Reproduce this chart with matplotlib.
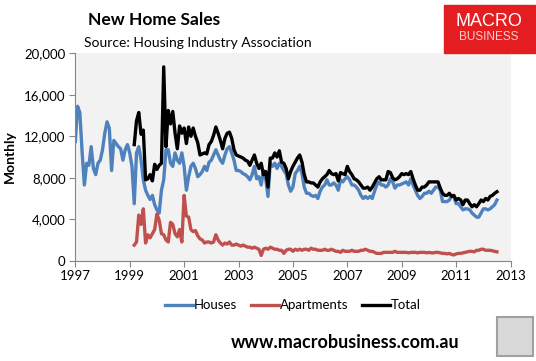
import numpy as np
import matplotlib
matplotlib.use('Agg')
import matplotlib.pyplot as plt
from matplotlib.patches import Rectangle

plt.rcParams['font.family'] = ['Lato', 'DejaVu Sans']

# Données mensuelles
houses = [
    11500, 14900, 14300, 10500, 7300, 9400, 9200, 11000, 8900, 8300, 9400, 9700,   # 1997
    10700, 12300, 13400, 12800, 8700, 11600, 11300, 11000, 10800, 9700, 10700, 11200,  # 1998
    10400, 9100, 5500, 10400, 11000, 9700, 7800, 6800, 6300, 5900, 6300, 5400,    # 1999
    4900, 4600, 6800, 7800, 10700, 10700, 9400, 9100, 10400, 9700, 9400, 10400,   # 2000
    9100, 6800, 8100, 9100, 9400, 8900, 8100, 8300, 8600, 9100, 8700, 9500,       # 2001
    9700, 10200, 10700, 10200, 9700, 9400, 10200, 10800, 11000, 10400, 9700, 8700,  # 2002
    8700, 8600, 8400, 8300, 8100, 7800, 8300, 9100, 7900, 8100, 7300, 8700,       # 2003
    7900, 6200, 9400, 9100, 9400, 8900, 9400, 9100, 8700, 8400, 7300, 6700,       # 2004
    7100, 8400, 8700, 9100, 8400, 7100, 6500, 6500, 6300, 6200, 6300, 6000,       # 2005
    6700, 7100, 7300, 7800, 7300, 7300, 7500, 7300, 6800, 7800, 7600, 7900,       # 2006
    8100, 7800, 7300, 7300, 7100, 6800, 6300, 6000, 6200, 6000, 6200, 6000,       # 2007
    6700, 7300, 7600, 7300, 7300, 7100, 7300, 7900, 7600, 7000, 7300, 7300,       # 2008
    7400, 7500, 7600, 7300, 7900, 7300, 6800, 6300, 6000, 6200, 6500, 6500,       # 2009
    6700, 6500, 6800, 7100, 7100, 6800, 5700, 5700, 5700, 5850, 6200, 6200,       # 2010
    5500, 5500, 5200, 4900, 5000, 5000, 4900, 4600, 4400, 4200, 4200, 4600,       # 2011
    5000, 5000, 4900, 5000, 5200, 5400, 5850,                                     # 2012
]

# Appartements et total : à partir de mars 1999
apartments = [
    1500, 1800, 4400, 3500, 5000, 1700, 2500, 2200, 2600, 3000,                   # 1999
    4500, 3900, 2600, 2500, 2000, 1800, 3700, 3500, 2600, 2300, 3000, 1800,       # 2000
    6300, 4300, 4200, 3000, 2800, 2900, 2400, 2100, 2000, 1700, 1800, 1800,       # 2001
    1700, 1800, 2500, 2000, 1700, 1500, 1700, 1600, 1800, 1500, 1500, 1600,       # 2002
    1500, 1400, 1500, 1400, 1300, 1300, 1200, 1300, 1200, 1100, 500, 1100,        # 2003
    1200, 1100, 1300, 1200, 1100, 1100, 1000, 1000, 700, 1000, 1100, 1100,        # 2004
    900, 1100, 1000, 1100, 1000, 1100, 1100, 1000, 1200, 1100, 1100, 1000,        # 2005
    1000, 1000, 1100, 1000, 1000, 1100, 1000, 900, 900, 800, 1000, 900,           # 2006
    900, 900, 1000, 900, 900, 900, 1000, 1000, 1100, 1000, 900, 900,             # 2007
    800, 700, 700, 700, 800, 800, 800, 800, 800, 900, 800, 800,                   # 2008
    800, 800, 800, 750, 800, 800, 800, 750, 800, 800, 800, 750,                   # 2009
    800, 750, 750, 800, 800, 750, 700, 700, 650, 700, 600, 550,                   # 2010
    650, 700, 700, 750, 800, 850, 900, 900, 850, 1000, 1000, 1100,                # 2011
    1100, 1000, 1000, 1000, 950, 900, 850,                                        # 2012
]

total = [
    11200, 13500, 14300, 12200, 12600, 7800, 7900, 8300, 7700, 9300,             # 1999
    8800, 9200, 9400, 18700, 11000, 14500, 13200, 14400, 12300, 10800, 13000, 12300,  # 2000
    12800, 11300, 12900, 12000, 12800, 12000, 11400, 10200, 10300, 10400, 10300, 11200,  # 2001
    11500, 12100, 12900, 12300, 11600, 10800, 11800, 12300, 12400, 11800, 10700, 10200,  # 2002
    10100, 10000, 9900, 9700, 9600, 9200, 9700, 10200, 9400, 8900, 9400, 8300,   # 2003
    8600, 7100, 9900, 9900, 10400, 10000, 10600, 9500, 9400, 8900, 7900, 8600,    # 2004
    9100, 9500, 9900, 10200, 9500, 8300, 7600, 7600, 7500, 7500, 7300, 7100,      # 2005
    7600, 7900, 8100, 8300, 8700, 8400, 8300, 8400, 7700, 8500, 8400, 8300,       # 2006
    9100, 8600, 8300, 7900, 7800, 7600, 7300, 7000, 7000, 7100, 6800, 7100,       # 2007
    7500, 7900, 8100, 7800, 7800, 7800, 8600, 8500, 8000, 7800, 7900, 8100,       # 2008
    8400, 8300, 8400, 8300, 8600, 7900, 7300, 6800, 6800, 7100, 7100, 7300,       # 2009
    7600, 7600, 7600, 7600, 7600, 7000, 6500, 6300, 6300, 6500, 6200, 6300,       # 2010
    5850, 6000, 5850, 5400, 5850, 5850, 5500, 5200, 5400, 5200, 5500, 5850,       # 2011
    5700, 6000, 5850, 6200, 6300, 6500, 6650,                                     # 2012
]

year_ticks = list(range(1997, 2014, 2))
y_ticks = [0, 4000, 8000, 12000, 16000, 20000]

# Axe du temps en années décimales
t_houses = 1997 + np.arange(len(houses)) / 12
t_other = 1999 + 2 / 12 + np.arange(len(total)) / 12

fig = plt.figure(figsize=(5.36, 3.61), dpi=100)
ax = fig.add_axes([0.1405, 0.278, 0.812, 0.574])
ax.set_facecolor('#F2F2F2')

ax.plot(t_houses, houses, color='#4F81BD', lw=2.4, label='Houses')
ax.plot(t_other, apartments, color='#C0504D', lw=2.4, label='Apartments')
ax.plot(t_other, total, color='black', lw=2.4, label='Total')

ax.set_xlim(1997, 2013)
ax.set_ylim(0, 20000)
ax.set_xticks(year_ticks)
ax.set_yticks(y_ticks)
ax.set_yticklabels([f'{v:,}' for v in y_ticks])
ax.tick_params(direction='out', length=4, color='#868686', labelsize=9.5, pad=3)
for s in ['top', 'right']:
    ax.spines[s].set_visible(False)
for s in ['left', 'bottom']:
    ax.spines[s].set_color('#868686')
ax.set_ylabel('Monthly', fontsize=10, fontweight='bold', labelpad=6)

ax.legend(loc='upper center', bbox_to_anchor=(0.5, -0.13), ncol=3, frameon=False,
          fontsize=9.5, handlelength=2.1, handletextpad=0.05, columnspacing=1.1)

# Titres
fig.text(0.164, 0.945, 'New Home Sales', fontsize=12.5, fontweight='bold', va='center')
fig.text(0.157, 0.881, 'Source: Housing Industry Association', fontsize=10, va='center')

# Logo
fig.patches.append(Rectangle((444 / 536, 1 - 53 / 361), 91 / 536, 48 / 361,
                             transform=fig.transFigure, color='#E41E20', zorder=0))
fig.text(489 / 536, 1 - 22 / 361, 'MACRO', color='white', fontsize=13,
         ha='center', va='center', family=['Liberation Sans'])
fig.text(489 / 536, 1 - 37 / 361, 'BUSINESS', color='#F6D0D0', fontsize=8.5,
         ha='center', va='center', family=['Liberation Sans'])

# Pied de page
fig.text(345 / 536, 1 - 342 / 361, 'www.macrobusiness.com.au', fontsize=13,
         fontweight='bold', ha='center', va='center')
fig.patches.append(Rectangle((497 / 536, 1 - 356 / 361), 36 / 536, 39 / 361,
                             transform=fig.transFigure, facecolor='#D9D9D9',
                             edgecolor='#A0A0A0', lw=1.5, zorder=0))

fig.savefig('out.png', dpi=100)
